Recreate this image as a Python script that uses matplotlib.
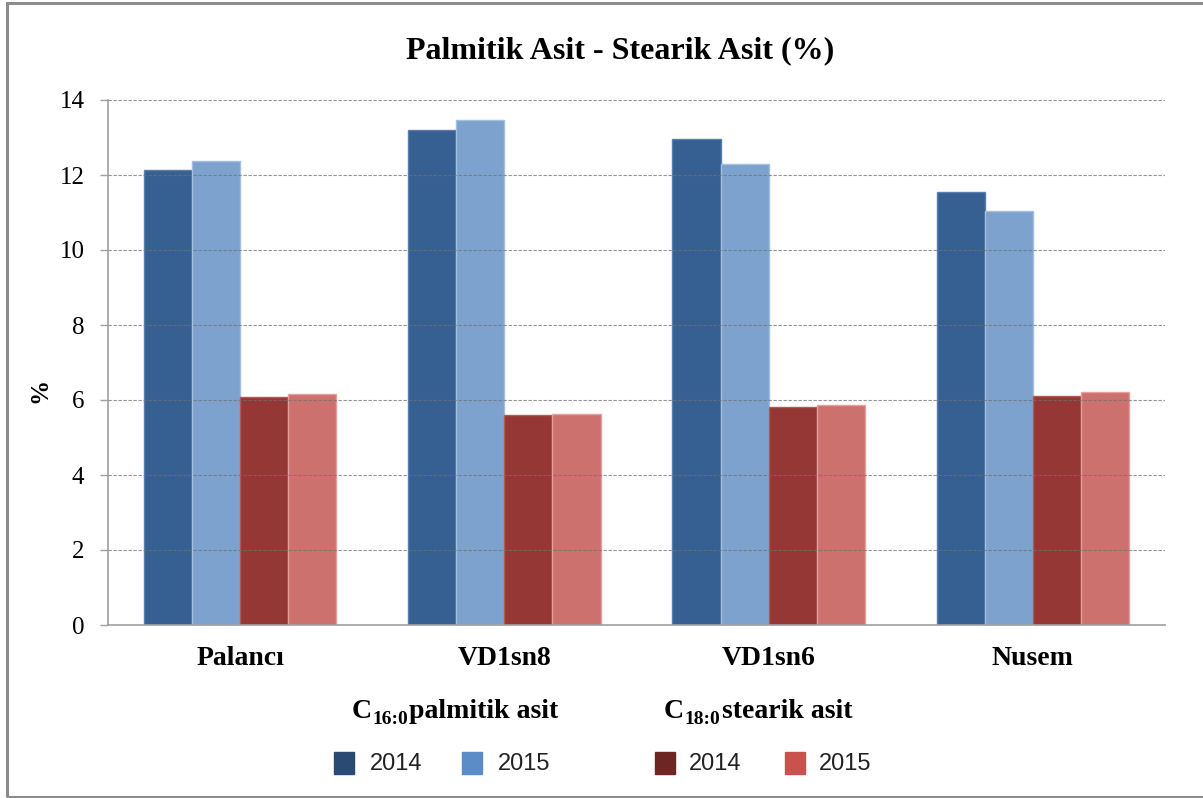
import matplotlib
matplotlib.use("Agg")
import matplotlib.pyplot as plt
from matplotlib.patches import Rectangle
import numpy as np

# Data
categories = ["Palancı", "VD1sn8", "VD1sn6", "Nusem"]
palmitic_2014 = [12.13, 13.20, 12.96, 11.55]
palmitic_2015 = [12.38, 13.47, 12.29, 11.04]
stearic_2014 = [6.07, 5.61, 5.82, 6.10]
stearic_2015 = [6.15, 5.64, 5.88, 6.21]
year_labels = ["2014", "2015"]
group_titles = [("C", "16:0", "palmitik asit"), ("C", "18:0", "stearik asit")]
yticks = [0, 2, 4, 6, 8, 10, 12, 14]

colors = ["#376092", "#7DA2CD", "#953735", "#CD716F"]
edges = ["#5A7FAE", "#A4BFE0", "#B05A58", "#E3A09E"]
legend_colors = ["#2A4A73", "#5B8CC8", "#6E2624", "#C9524F"]

W, H = 1203, 798
fig = plt.figure(figsize=(W / 100, H / 100), dpi=100)
ax = fig.add_axes([108 / W, 1 - 625 / H, (1165 - 108) / W, (625 - 100) / H])

x = np.arange(len(categories))
w = 0.182
series = [palmitic_2014, palmitic_2015, stearic_2014, stearic_2015]
for i, vals in enumerate(series):
    ax.bar(x + (i - 1.5) * w, vals, width=w, color=colors[i],
           edgecolor=edges[i], linewidth=1.0, zorder=2)

ax.set_xlim(-0.5, len(categories) - 0.5)
ax.set_ylim(0, 14)
ax.set_yticks(yticks)
ax.set_yticklabels([str(t) for t in yticks], fontfamily="Liberation Serif", fontsize=18)
ax.set_xticks(x)
ax.set_xticklabels(categories, fontfamily="Liberation Serif", fontsize=20, fontweight="bold")
ax.tick_params(axis="x", length=0, pad=15)
ax.tick_params(axis="y", length=6, width=1, color="#A0A0A0", pad=11)

for t in yticks[1:]:
    ax.axhline(t, color="#707070", linestyle=(0, (3, 1.5)), linewidth=0.8, alpha=0.75, zorder=3)

for s in ["top", "right"]:
    ax.spines[s].set_visible(False)
for s in ["left", "bottom"]:
    ax.spines[s].set_color("#A0A0A0")
    ax.spines[s].set_linewidth(1.2)

fig.text(40 / W, 1 - 390 / H, "%", rotation=90, ha="center", va="center",
         fontfamily="Liberation Serif", fontsize=18, fontweight="bold")

fig.text(620 / W, 1 - 51 / H, "Palmitik Asit - Stearik Asit (%)", ha="center", va="center",
         fontfamily="Liberation Serif", fontsize=23, fontweight="bold")

renderer = fig.canvas.get_renderer()


def chained_title(cx_px, base_px, parts):
    """Draw pieces of text side by side (main, subscript, main) centred at cx_px."""
    texts = []
    for s, size, dy in parts:
        t = fig.text(0, 1 - (base_px + dy) / H, s, ha="left", va="baseline",
                     fontfamily="Liberation Serif", fontsize=size, fontweight="bold")
        texts.append(t)
    widths = [t.get_window_extent(renderer).width for t in texts]
    x0 = cx_px - sum(widths) / 2
    for t, wd in zip(texts, widths):
        t.set_x(x0 / W)
        x0 += wd + 1


# Legend: two titled groups, each with a 2014 and 2015 swatch
title_x = [454, 757]
swatch_x = [[344, 472], [665, 795]]
label_x = [[370, 498], [689, 819]]
for g in range(2):
    main, sub, rest = group_titles[g]
    chained_title(title_x[g], 718, [(main, 20, 0), (sub, 14, 6), (rest, 20, 0)])
    for k in range(2):
        c = legend_colors[2 * g + k]
        fig.add_artist(Rectangle(((swatch_x[g][k] - 10) / W, 1 - 774 / H), 20 / W, 22 / H,
                                 transform=fig.transFigure, facecolor=c, edgecolor=c))
        fig.text(label_x[g][k] / W, 1 - 764 / H, year_labels[k], ha="left", va="center",
                 fontfamily="Liberation Sans", fontsize=17, color="#222222")

# Outer frame
fig.add_artist(Rectangle((7 / W, 1 / H), 1.2, 794 / H, transform=fig.transFigure,
                         fill=False, edgecolor="#8C8C8C", linewidth=2.2))

fig.savefig("out.png", dpi=100)
